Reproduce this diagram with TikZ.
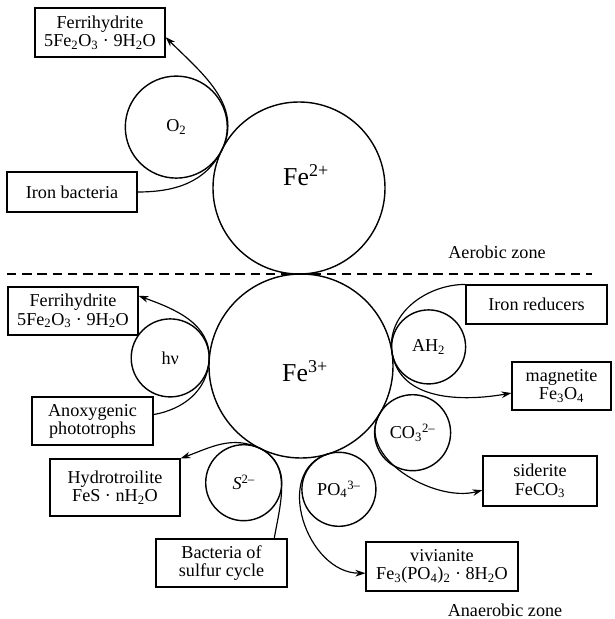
\documentclass[tikz,border=0pt]{standalone}
\usepackage{fontspec}
\setmainfont{Liberation Serif}
\usetikzlibrary{arrows.meta, positioning, calc}

\begin{document}
\begin{tikzpicture}[
    x=0.03cm, y=-0.03cm,
    ion/.style={
      circle, draw, line width=1.2pt, inner sep=0pt, outer sep=0pt,
      font=\fontsize{15.5}{16}\selectfont
    },
    ironlabel/.style={font=\fontsize{22}{24}\selectfont},
    box/.style={
      rectangle, draw, line width=1pt, align=center, inner sep=2pt,
      font=\fontsize{15.5}{15.5}\selectfont
    },
    link/.style={line width=1pt},
    arr/.style={link, -{Stealth[length=3mm, width=2mm]}},
    zone/.style={font=\fontsize{15.5}{16}\selectfont}
  ]
    \useasboundingbox (0,0) rectangle (614,619);

    % central iron
    \node[ion, minimum size=5.16cm] (fe2) at (299,188) {};
    \node[ion, minimum size=5.52cm] (fe3) at (301,366) {};
    \node[ironlabel] (fe2text) at ($(fe2)+(7,-13)$) {Fe\textsuperscript{2+}};
    \node[ironlabel] (fe3text) at ($(fe3)+(4,5)$) {Fe\textsuperscript{3+}};

    % partners
    \node[ion, minimum size=3.06cm] (o2) at (176.3,127.1) {O\textsubscript{2}};
    \node[ion, minimum size=2.34cm] (hv) at (170.2,357.9) {hν};
    \node[ion, minimum size=2.28cm] (s) at (243.7,482.7) {\textit{S}\textsuperscript{2–}};
    \node[ion, minimum size=2.22cm] (po4) at (338.9,489.3) {PO\textsubscript{4}\textsuperscript{3–}};
    \node[ion, minimum size=2.28cm] (co3) at (412.6,432.7) {CO\textsubscript{3}\textsuperscript{2–}};
    \node[ion, minimum size=2.22cm] (ah2) at (428.6,346.9) {AH\textsubscript{2}};

    % boxes
    \node[box, minimum width=3.9cm, minimum height=1.47cm] (ferri1) at (100,32.5)
      {Ferrihydrite\\5Fe\textsubscript{2}O\textsubscript{3} · 9H\textsubscript{2}O};
    \node[box, minimum width=3.9cm, minimum height=1.2cm] (bact) at (72,192) {Iron bacteria};
    \node[box, minimum width=3.9cm, minimum height=1.44cm] (ferri2) at (73,311)
      {Ferrihydrite\\5Fe\textsubscript{2}O\textsubscript{3} · 9H\textsubscript{2}O};
    \node[box, minimum width=3.63cm, minimum height=1.44cm] (anox) at (92.5,421)
      {Anoxygenic\\phototrophs};
    \node[box, minimum width=3.9cm, minimum height=1.71cm] (hydro) at (115,487.5)
      {Hydrotroilite\\FeS · nH\textsubscript{2}O};
    \node[box, minimum width=3.93cm, minimum height=1.44cm] (sulfur) at (221.5,563)
      {Bacteria of\\sulfur cycle};
    \node[box, minimum width=4.56cm, minimum height=1.47cm] (vivi) at (442,566.5)
      {vivianite\\Fe\textsubscript{3}(PO\textsubscript{4})\textsubscript{2} · 8H\textsubscript{2}O};
    \node[box, minimum width=3.42cm, minimum height=1.5cm] (siderite) at (540,481)
      {siderite\\FeCO\textsubscript{3}};
    \node[box, minimum width=2.97cm, minimum height=1.44cm] (magnetite) at (561.5,386)
      {magnetite\\Fe\textsubscript{3}O\textsubscript{4}};
    \node[box, minimum width=4.23cm, minimum height=1.17cm] (reducers) at (536.5,304.5)
      {Iron reducers};

    % zones
    \coordinate (zl) at (7,274);
    \coordinate (zr) at (592,274);
    \draw[line width=1pt, dash pattern=on 8pt off 5pt] (zl) -- (zr);
    \node[zone] (aerobic) at (497,252) {Aerobic zone};
    \node[zone] (anaerobic) at (505,610) {Anaerobic zone};

    % connectors
    \draw[link] (bact.east) to[out=0, in=-116] (o2.-26);
    \draw[arr] (o2.-26) to[out=64, in=-45] (ferri1.-4);
    \draw[link] (anox.6) to[out=10, in=-94] (hv.-4);
    \draw[arr] (hv.-4) to[out=86, in=-20] (ferri2.13);
    \draw[link] (sulfur.25) to[out=80, in=-26] (s.64);
    \draw[arr] (s.64) to[out=154, in=20] (hydro.north east);
    \draw[arr] (po4.107) to[out=197, in=180, looseness=1.2] (vivi.185);
    \draw[arr] (co3.149) to[out=239, in=195] (siderite.189);
    \draw[link] (reducers.north west) to[out=180, in=99] (ah2.189);
    \draw[arr] (ah2.189) to[out=279, in=190] (magnetite.188);
  \end{tikzpicture}
\end{document}
